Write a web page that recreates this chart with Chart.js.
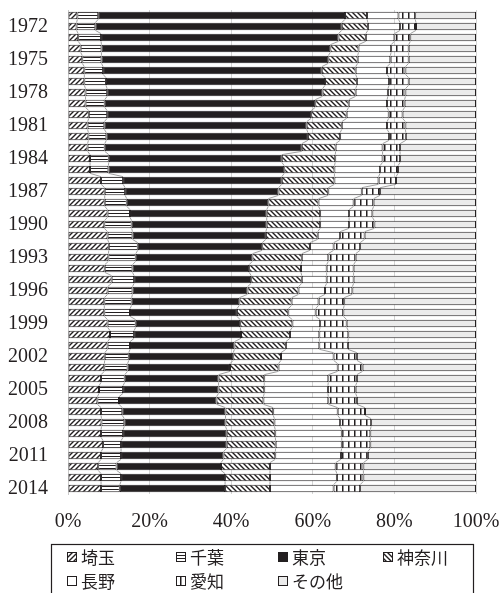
<!DOCTYPE html>
<html>
<head>
<meta charset="utf-8">
<script src="https://cdn.jsdelivr.net/npm/chart.js@4.4.1/dist/chart.umd.min.js"></script>
<style>
  html, body { margin: 0; padding: 0; background: #ffffff; }
  #wrap { width: 501px; height: 593px; position: relative; overflow: hidden; }
</style>
</head>
<body>
<div id="wrap"><canvas id="c" width="501" height="593"></canvas></div>
<script>
// Years shown on the category axis (top to bottom)
const years = [
  1971, 1972, 1973, 1974, 1975, 1976, 1977, 1978, 1979, 1980,
  1981, 1982, 1983, 1984, 1985, 1986, 1987, 1988, 1989, 1990,
  1991, 1992, 1993, 1994, 1995, 1996, 1997, 1998, 1999, 2000,
  2001, 2002, 2003, 2004, 2005, 2006, 2007, 2008, 2009, 2010,
  2011, 2012, 2013, 2014
];

// Share of each prefecture (%) per year
const saitama = [
  2.3, 2.1, 2.5, 3.1, 3.5, 4.0, 4.0, 4.3, 4.3, 5.1,
  4.8, 5.0, 4.8, 5.4, 5.4, 8.1, 9.0, 9.0, 9.7, 8.9,
  9.7, 10.0, 9.9, 9.0, 10.7, 9.7, 8.9, 8.9, 9.7, 10.3,
  9.7, 9.0, 8.9, 8.1, 7.6, 7.2, 8.1, 8.2, 8.1, 8.6,
  8.1, 7.4, 8.1, 8.1
];
const chiba = [
  5.1, 4.6, 5.6, 5.1, 4.7, 4.6, 5.3, 5.3, 4.7, 4.5,
  4.1, 4.4, 4.2, 4.6, 4.5, 5.4, 5.0, 5.4, 5.5, 6.7,
  6.1, 7.1, 6.7, 6.8, 5.5, 6.1, 6.7, 6.3, 6.9, 5.9,
  5.5, 5.9, 5.7, 5.8, 5.9, 5.3, 5.2, 5.6, 5.4, 4.4,
  4.9, 4.5, 4.9, 4.6
];
const tokyo = [
  60.5, 60.4, 58.2, 56.1, 55.6, 53.6, 53.7, 52.8, 51.6, 50.0,
  49.6, 49.4, 48.3, 42.4, 43.1, 38.9, 37.6, 34.7, 33.5, 33.1,
  32.7, 30.5, 28.6, 28.6, 28.7, 28.2, 26.4, 26.2, 25.6, 26.2,
  25.6, 25.6, 25.1, 23.0, 23.4, 23.9, 25.3, 24.8, 25.4, 25.9,
  25.1, 25.6, 25.5, 25.8
];
const kanagawa = [
  5.4, 6.4, 6.7, 6.9, 7.2, 8.3, 7.8, 8.1, 8.2, 8.7,
  8.6, 7.9, 8.3, 13.1, 12.3, 12.9, 12.2, 12.3, 13.1, 13.1,
  12.7, 11.7, 12.1, 12.7, 12.4, 12.5, 12.8, 12.6, 12.8, 12.0,
  12.6, 11.7, 11.9, 11.2, 11.2, 11.5, 11.7, 12.0, 11.9, 12.0,
  12.7, 12.0, 11.0, 11.0
];
const nagano = [
  7.7, 7.9, 7.0, 8.0, 8.0, 7.7, 7.9, 7.9, 9.4, 10.3,
  11.1, 12.0, 11.5, 11.6, 11.2, 10.8, 8.2, 8.6, 7.1, 7.1,
  5.5, 5.8, 6.5, 6.3, 6.1, 6.5, 6.6, 6.7, 6.8, 7.2,
  8.2, 12.9, 14.5, 15.7, 15.6, 15.9, 15.8, 16.1, 16.3, 16.2,
  16.1, 16.1, 16.4, 15.6
];
const aichi = [
  4.1, 3.9, 3.9, 4.3, 4.5, 4.5, 4.8, 4.3, 4.3, 3.4,
  4.5, 4.1, 4.3, 4.3, 4.4, 4.3, 4.5, 4.9, 5.7, 6.2,
  6.0, 6.5, 6.7, 6.6, 6.6, 6.7, 6.3, 6.8, 6.5, 7.1,
  7.0, 5.7, 6.1, 7.0, 6.8, 7.0, 6.7, 7.6, 7.0, 7.0,
  6.6, 6.8, 6.5, 6.5
];
const others = [
  14.9, 14.7, 16.1, 16.5, 16.5, 17.3, 16.5, 17.3, 17.5, 18.0,
  17.3, 17.2, 18.6, 18.6, 19.1, 19.6, 23.5, 25.1, 25.4, 24.9,
  27.3, 28.4, 29.5, 30.0, 30.0, 30.3, 32.3, 32.5, 31.7, 31.3,
  31.4, 29.2, 27.8, 29.2, 29.5, 29.2, 27.2, 25.7, 25.9, 25.9,
  26.5, 27.6, 27.6, 28.4
];

const seriesNames = ['埼玉', '千葉', '東京', '神奈川', '長野', '愛知', 'その他'];
const xTicks = [0, 20, 40, 60, 80, 100];

const canvas = document.getElementById('c');
const ctx = canvas.getContext('2d');
const INK = '#231f20';

// Small repeating tiles used as fills
function tile(w, h, paint) {
  const t = document.createElement('canvas');
  t.width = w; t.height = h;
  const g = t.getContext('2d');
  g.fillStyle = '#ffffff';
  g.fillRect(0, 0, w, h);
  g.strokeStyle = INK;
  g.fillStyle = INK;
  paint(g, w, h);
  return ctx.createPattern(t, 'repeat');
}
const fillSlash = tile(5, 5, (g, w, h) => {
  g.lineWidth = 1.4;
  g.beginPath();
  g.moveTo(-1, h + 1); g.lineTo(w + 1, -1);
  g.moveTo(-1, 1); g.lineTo(1, -1);
  g.moveTo(w - 1, h + 1); g.lineTo(w + 1, h - 1);
  g.stroke();
});
const fillBackslash = tile(5, 5, (g, w, h) => {
  g.lineWidth = 1.4;
  g.beginPath();
  g.moveTo(-1, -1); g.lineTo(w + 1, h + 1);
  g.moveTo(w - 1, -1); g.lineTo(w + 1, 1);
  g.moveTo(-1, h - 1); g.lineTo(1, h + 1);
  g.stroke();
});
const fillHoriz = tile(4, 3, (g, w) => { g.fillRect(0, 0, w, 1); });
const fillVert = tile(6, 4, (g, w, h) => { g.fillRect(0, 0, 1.5, h); });

const fills = [fillSlash, fillHoriz, INK, fillBackslash, '#ffffff', fillVert, '#ebebeb'];
const values = [saitama, chiba, tokyo, kanagawa, nagano, aichi, others];

const datasets = seriesNames.map((name, i) => ({
  label: name,
  data: values[i],
  backgroundColor: fills[i],
  borderColor: INK,
  borderWidth: 1,
  borderSkipped: false,
  barPercentage: 0.7,
  categoryPercentage: 1.0
}));

// Thin grey connectors between the segment ends of neighbouring bars
const seriesLines = {
  id: 'seriesLines',
  afterDatasetsDraw(chart) {
    const c = chart.ctx;
    c.save();
    c.strokeStyle = '#a0a0a0';
    c.lineWidth = 1;
    for (let d = 0; d < chart.data.datasets.length - 1; d++) {
      const bars = chart.getDatasetMeta(d).data;
      c.beginPath();
      for (let i = 0; i < bars.length - 1; i++) {
        const a = bars[i], b = bars[i + 1];
        c.moveTo(a.x, a.y + a.height / 2);
        c.lineTo(b.x, b.y - b.height / 2);
      }
      c.stroke();
    }
    c.restore();
  }
};

// Boxed legend laid out on a four-column grid under the axis
const gridLegend = {
  id: 'gridLegend',
  afterDraw(chart) {
    const c = chart.ctx;
    const boxLeft = 51, boxRight = 473, boxTop = chart.chartArea.bottom + 50;
    const colX = [67, 176, 278, 383];
    const rowY = [boxTop + 13, boxTop + 37];
    c.save();
    c.strokeStyle = INK;
    c.lineWidth = 1.2;
    c.strokeRect(boxLeft + 0.5, boxTop + 0.5, boxRight - boxLeft, 80);
    c.font = '17px "Noto Sans CJK JP", "Noto Sans", sans-serif';
    c.textBaseline = 'middle';
    c.textAlign = 'left';
    chart.data.datasets.forEach((ds, i) => {
      const x = colX[i % 4], y = rowY[Math.floor(i / 4)];
      c.fillStyle = ds.backgroundColor;
      c.fillRect(x, y - 5, 10, 10);
      c.lineWidth = 1;
      c.strokeStyle = INK;
      c.strokeRect(x + 0.5, y - 4.5, 9, 9);
      c.fillStyle = INK;
      c.fillText(ds.label, x + 14, y + 1);
    });
    c.restore();
  }
};

new Chart(ctx, {
  type: 'bar',
  data: { labels: years.map(String), datasets },
  plugins: [seriesLines, gridLegend],
  options: {
    indexAxis: 'y',
    responsive: false,
    animation: false,
    events: [],
    layout: { padding: { top: 10, right: 25, bottom: 49, left: 0 } },
    plugins: { legend: { display: false }, tooltip: { enabled: false } },
    scales: {
      x: {
        stacked: true,
        min: 0,
        max: 100,
        afterBuildTicks(scale) { scale.ticks = xTicks.map(v => ({ value: v })); },
        afterFit(scale) {
          scale.height = 50;
          scale.paddingLeft = 0;
          scale.paddingRight = 0;
        },
        grid: { color: '#d4d4d4', lineWidth: 1, drawTicks: false },
        border: { display: false },
        ticks: {
          padding: 16,
          color: INK,
          font: { family: '"Liberation Serif", "Times New Roman", serif', size: 20 },
          callback: v => v + '%'
        }
      },
      y: {
        stacked: true,
        afterFit(scale) {
          scale.width = 68;
          scale.paddingTop = 0;
          scale.paddingBottom = 0;
        },
        grid: { display: false, drawTicks: false },
        border: { display: true, color: '#c8c8c8' },
        ticks: {
          autoSkip: false,
          padding: 20,
          color: INK,
          font: { family: '"Liberation Serif", "Times New Roman", serif', size: 20 },
          callback(value) {
            const yr = years[value];
            return (yr - 1972) % 3 === 0 ? String(yr) : '';
          }
        }
      }
    }
  }
});
</script>
</body>
</html>
